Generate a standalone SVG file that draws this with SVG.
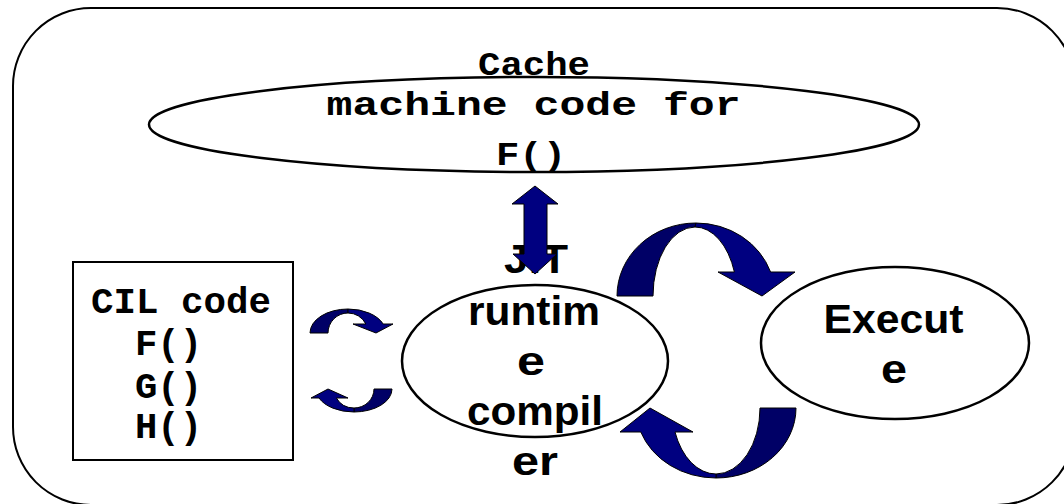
<svg xmlns="http://www.w3.org/2000/svg" width="1064" height="504" viewBox="0 0 1064 504">
  <style>
    .frame { fill: none; stroke: #000; stroke-width: 2; }
    .node { fill: #fff; stroke: #000; stroke-width: 2.5; }
    .box { fill: #fff; stroke: #000; stroke-width: 2; }
    .mono { font-family: "Liberation Mono", "Courier New", monospace; font-weight: bold; fill: #000; }
    .sans { font-family: "Liberation Sans", Arial, sans-serif; font-weight: bold; fill: #000; font-size: 40px; text-anchor: middle; }
    .front { fill: #000080; stroke: #000; stroke-width: 1; }
    .back { fill: #000066; stroke: #000; stroke-width: 1; }
  </style>

  <!-- outer frame -->
  <rect class="frame" x="13" y="8" width="1062" height="497" rx="78" ry="78"/>

  <!-- cache -->
  <g id="cache">
    <text class="mono" x="534" y="75" font-size="34" text-anchor="middle" textLength="112" lengthAdjust="spacingAndGlyphs">Cache</text>
    <ellipse class="node" cx="534" cy="124.5" rx="385" ry="47.5"/>
    <text class="mono" x="533.5" y="115" font-size="34" text-anchor="middle" textLength="414" lengthAdjust="spacingAndGlyphs">machine code for</text>
    <text class="mono" x="531" y="165" font-size="34" text-anchor="middle" textLength="70" lengthAdjust="spacingAndGlyphs">F()</text>
  </g>

  <!-- CIL code listing -->
  <g id="cil">
    <rect class="box" x="73" y="262" width="220" height="198"/>
    <text class="mono" x="91" y="313" font-size="36" textLength="180" lengthAdjust="spacingAndGlyphs">CIL code</text>
    <text class="mono" x="135" y="355" font-size="36" textLength="67" lengthAdjust="spacingAndGlyphs">F()</text>
    <text class="mono" x="135" y="398" font-size="36" textLength="67" lengthAdjust="spacingAndGlyphs">G()</text>
    <text class="mono" x="135" y="438" font-size="36" textLength="67" lengthAdjust="spacingAndGlyphs">H()</text>
  </g>

  <!-- JIT compiler -->
  <g id="jit">
    <ellipse class="node" cx="535" cy="361" rx="133" ry="76"/>
    <text class="sans" x="536" y="273" textLength="64" lengthAdjust="spacingAndGlyphs">JIT</text>
    <text class="sans" x="534" y="325" textLength="132" lengthAdjust="spacingAndGlyphs">runtim</text>
    <text class="sans" x="531" y="375" textLength="28" lengthAdjust="spacingAndGlyphs">e</text>
    <text class="sans" x="535" y="425" textLength="136" lengthAdjust="spacingAndGlyphs">compil</text>
    <text class="sans" x="535" y="475" textLength="46" lengthAdjust="spacingAndGlyphs">er</text>
  </g>

  <!-- execute -->
  <g id="execute">
    <ellipse class="node" cx="895" cy="343" rx="134" ry="76"/>
    <text class="sans" x="893.5" y="333" textLength="140" lengthAdjust="spacingAndGlyphs">Execut</text>
    <text class="sans" x="894" y="383" textLength="26" lengthAdjust="spacingAndGlyphs">e</text>
  </g>

  <!-- block arrows -->
  <g id="connectors">
    <!-- cache <-> JIT -->
    <polygon class="front" points="535,186 558,204 547,204 547,254 557,254 535,274 513,254 524,254 524,204 512,204"/>

    <!-- JIT -> execute -->
    <path class="back" d="M617,296 A79,73 0 0 1 696,223 L695,227 A42,69 0 0 0 653,296 Z"/>
    <path class="front" d="M696,223 A79,73 0 0 1 770.6,272 L795,272 L762,296 L718,272 L734.4,272 A42,69 0 0 0 695,227 Z"/>

    <!-- execute -> JIT -->
    <path class="back" d="M796,408 A80,70 0 0 1 716,478 L716,474 A44,66 0 0 0 760,408 Z"/>
    <path class="front" d="M716,478 A80,70 0 0 1 640.8,432 L620,432 L650,408 L693,432 L675,432 A44,66 0 0 0 716,474 Z"/>

    <!-- CIL -> JIT -->
    <path class="back" d="M310,333 A38,24 0 0 1 348,309 L348,313 A20,20 0 0 0 328,333 Z"/>
    <path class="front" d="M348,309 A38,24 0 0 1 383.2,324 L393,324 L376,333 L353,324 L365.9,324 A20,20 0 0 0 348,313 Z"/>

    <!-- JIT -> CIL -->
    <path class="back" d="M392,389 A38,23 0 0 1 354,412 L354,408 A20,19 0 0 0 374,389 Z"/>
    <path class="front" d="M354,412 A38,23 0 0 1 319,398 L311,398 L328,389 L348,398 L336.4,398 A20,19 0 0 0 354,408 Z"/>
  </g>
</svg>
